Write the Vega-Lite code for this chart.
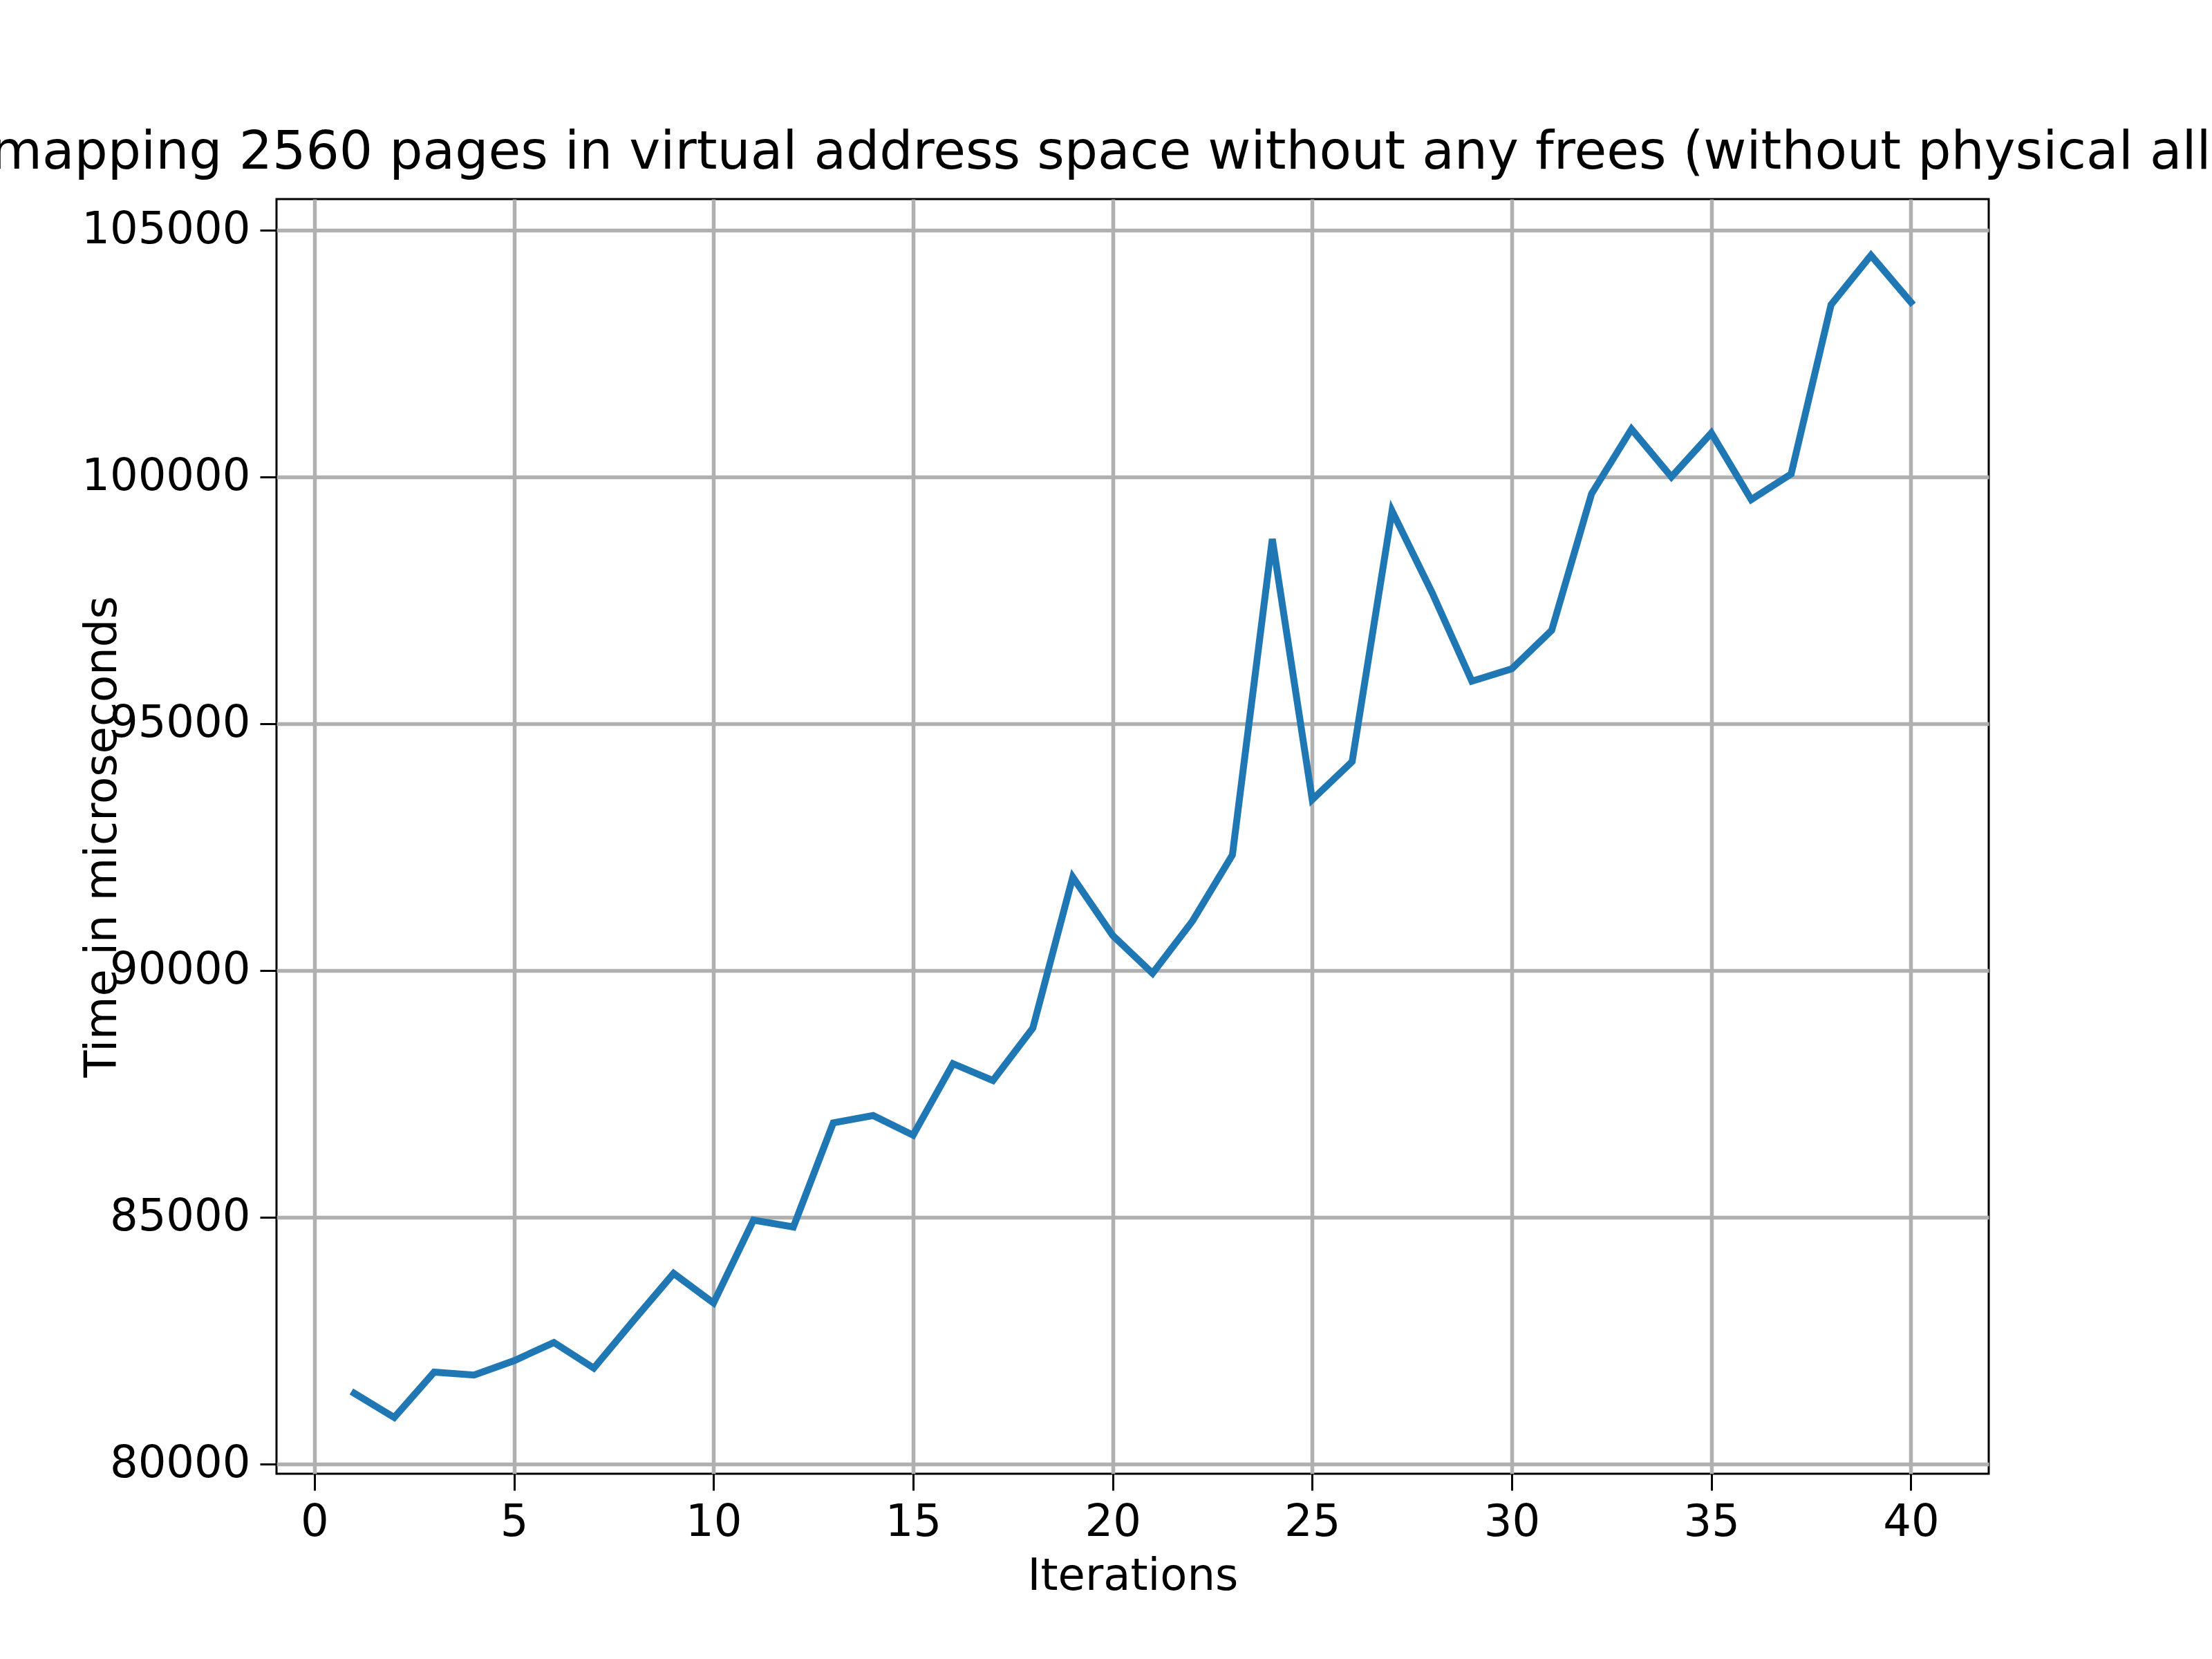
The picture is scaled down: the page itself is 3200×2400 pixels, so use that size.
{
  "$schema": "https://vega.github.io/schema/vega-lite/v6.json",
  "width": 2477,
  "height": 1844,
  "autosize": "none",
  "padding": {"left": 400, "top": 288, "right": 323, "bottom": 268},
  "background": "white",
  "config": {
    "font": "DejaVu Sans",
    "view": {"stroke": "black", "strokeWidth": 3},
    "axis": {
      "labelFont": "DejaVu Sans", "labelFontSize": 64, "labelColor": "black", "labelLimit": 0,
      "titleFont": "DejaVu Sans", "titleFontSize": 64, "titleFontWeight": "normal", "titleColor": "black",
      "tickColor": "black", "tickSize": 24, "tickWidth": 3, "domain": false,
      "gridColor": "#b0b0b0", "gridWidth": 5.5, "labelPadding": 14
    }
  },
  "title": {
    "text": "Time for mapping 2560 pages in virtual address space without any frees (without physical allocation)",
    "fontSize": 76, "fontWeight": "normal", "font": "DejaVu Sans", "color": "black",
    "offset": 28, "limit": 0, "anchor": "middle", "dx": -60
  },
  "data": {
    "values": [
      {"it": 1, "t": 81430}, {"it": 2, "t": 80940}, {"it": 3, "t": 81860}, {"it": 4, "t": 81800},
      {"it": 5, "t": 82090}, {"it": 6, "t": 82460}, {"it": 7, "t": 81940}, {"it": 8, "t": 82910},
      {"it": 9, "t": 83860}, {"it": 10, "t": 83260}, {"it": 11, "t": 84940}, {"it": 12, "t": 84800},
      {"it": 13, "t": 86910}, {"it": 14, "t": 87060}, {"it": 15, "t": 86660}, {"it": 16, "t": 88110},
      {"it": 17, "t": 87770}, {"it": 18, "t": 88830}, {"it": 19, "t": 91890}, {"it": 20, "t": 90710},
      {"it": 21, "t": 89940}, {"it": 22, "t": 91000}, {"it": 23, "t": 92340}, {"it": 24, "t": 98740},
      {"it": 25, "t": 93460}, {"it": 26, "t": 94230}, {"it": 27, "t": 99310}, {"it": 28, "t": 97660},
      {"it": 29, "t": 95860}, {"it": 30, "t": 96110}, {"it": 31, "t": 96890}, {"it": 32, "t": 99660},
      {"it": 33, "t": 100970}, {"it": 34, "t": 100000}, {"it": 35, "t": 100890}, {"it": 36, "t": 99540},
      {"it": 37, "t": 100060}, {"it": 38, "t": 103490}, {"it": 39, "t": 104490}, {"it": 40, "t": 103540}
    ]
  },
  "mark": {"type": "line", "color": "#1f77b4", "strokeWidth": 10, "strokeCap": "square"},
  "encoding": {
    "x": {
      "field": "it", "type": "quantitative", "title": "Iterations",
      "scale": {"domain": [-0.95, 41.95], "nice": false, "zero": false},
      "axis": {"values": [0, 5, 10, 15, 20, 25, 30, 35, 40], "titlePadding": 14}
    },
    "y": {
      "field": "t", "type": "quantitative", "title": "Time in microseconds",
      "scale": {"domain": [79800, 105630], "nice": false, "zero": false},
      "axis": {"values": [80000, 85000, 90000, 95000, 100000, 105000], "format": "d", "titlePadding": 20}
    }
  }
}
